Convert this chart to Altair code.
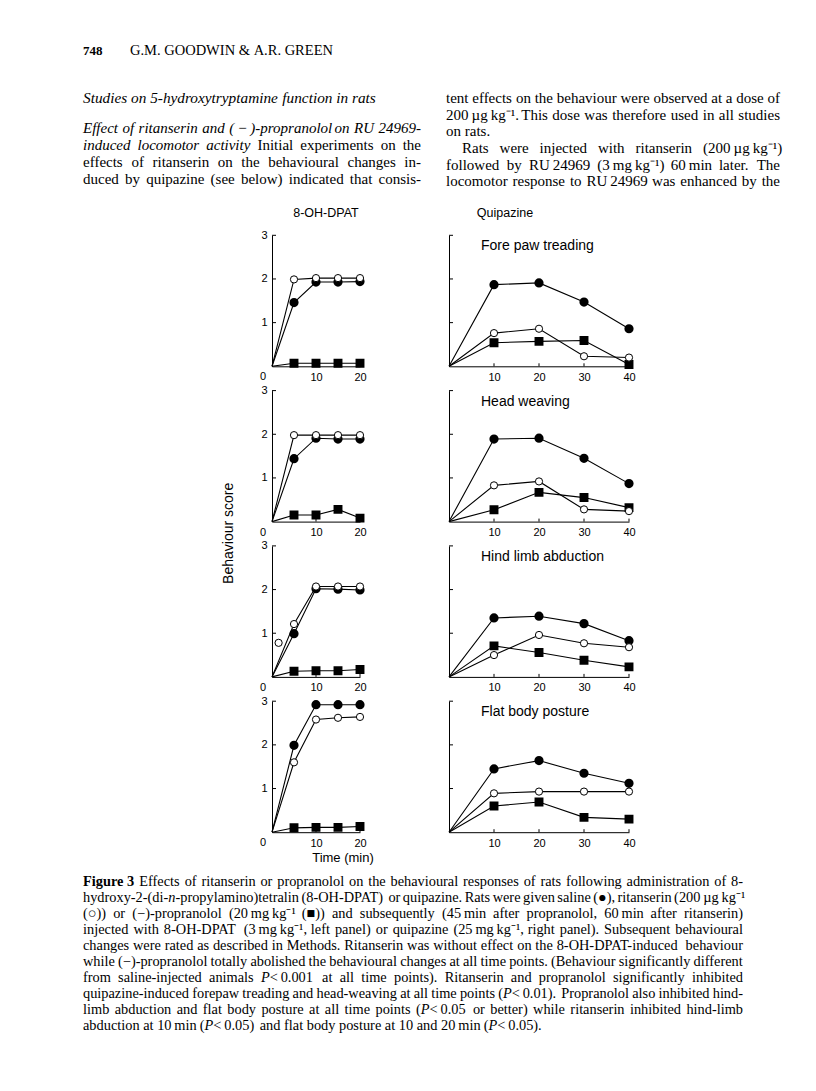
import altair as alt
import pandas as pd

# ---------------- data ----------------
DPAT_TIME = [0, 5, 10, 15, 20]
QUIP_TIME = [0, 10, 20, 30, 40]
BEHAVIOURS = ["Fore paw treading", "Head weaving", "Hind limb abduction", "Flat body posture"]

# 8-OH-DPAT (left panels): saline (filled circle), ritanserin (open circle), propranolol (filled square)
DPAT_SALINE = [
    [0, 1.46, 1.93, 1.93, 1.94],
    [0, 1.44, 1.91, 1.89, 1.89],
    [0, 0.99, 2.02, 2.01, 1.99],
    [0, 1.99, 2.92, 2.92, 2.92],
]
DPAT_RITANSERIN = [
    [0, 1.99, 2.02, 2.02, 2.02],
    [0, 1.98, 1.98, 1.98, 1.98],
    [0, 1.21, 2.07, 2.07, 2.07],
    [0, 1.60, 2.58, 2.62, 2.64],
]
DPAT_PROPRANOLOL = [
    [0, 0.07, 0.07, 0.07, 0.07],
    [0, 0.15, 0.15, 0.28, 0.08],
    [0, 0.13, 0.14, 0.14, 0.17],
    [0, 0.10, 0.11, 0.11, 0.13],
]
DPAT_STRAY_T = [1.5]      # isolated open circle printed in the third left panel
DPAT_STRAY_V = [0.78]

# Quipazine (right panels)
QUIP_SALINE = [
    [0, 1.87, 1.91, 1.47, 0.86],
    [0, 1.89, 1.91, 1.45, 0.87],
    [0, 1.35, 1.39, 1.22, 0.83],
    [0, 1.45, 1.64, 1.35, 1.12],
]
QUIP_RITANSERIN = [
    [0, 0.76, 0.86, 0.23, 0.20],
    [0, 0.83, 0.92, 0.28, 0.24],
    [0, 0.50, 0.96, 0.77, 0.68],
    [0, 0.89, 0.93, 0.93, 0.93],
]
QUIP_PROPRANOLOL = [
    [0, 0.54, 0.57, 0.59, 0.04],
    [0, 0.27, 0.67, 0.55, 0.32],
    [0, 0.71, 0.56, 0.38, 0.23],
    [0, 0.60, 0.69, 0.34, 0.30],
]
DPAT_XTICKS = [10, 20]
QUIP_XTICKS = [10, 20, 30, 40]
Y_TICKS = [1, 2, 3]

# ---------------- page text ----------------
PAGE_NUMBER = "748"
AUTHORS = "G.M. GOODWIN & A.R. GREEN"
SECTION = "_Studies on 5-hydroxytryptamine function in rats_"
LEFT_COL = [
    "_Effect of ritanserin and (\u2009\u2212\u2009)-propranolol on RU 24969-_",
    "_induced locomotor activity_ Initial experiments on the",
    "effects of ritanserin on the behavioural changes in-",
    "duced by quipazine (see below) indicated that consis-",
]
RIGHT_COL = [
    "tent effects on the behaviour were observed at a dose of",
    "200\u2009\u00b5g\u2009kg\u207b\u00b9. This dose was therefore used in all studies",
    "on rats.",
    "Rats were injected with ritanserin (200\u2009\u00b5g\u2009kg\u207b\u00b9)",
    "followed by RU\u200924969 (3\u2009mg\u2009kg\u207b\u00b9) 60\u2009min later. The",
    "locomotor response to RU\u200924969 was enhanced by the",
]
PANEL_TITLE_LEFT = "8-OH-DPAT"
PANEL_TITLE_RIGHT = "Quipazine"
Y_TITLE = "Behaviour score"
X_TITLE = "Time (min)"
CAPTION = [
    "*Figure\u00a03* Effects of ritanserin or propranolol on the behavioural responses of rats following administration of 8-",
    "hydroxy-2-(di-_n_-propylamino)tetralin (8-OH-DPAT) or quipazine. Rats were given saline (\u25cf), ritanserin (200\u2009\u00b5g\u2009kg\u207b\u00b9",
    "(\u25cb)) or (\u2212)-propranolol (20\u2009mg\u2009kg\u207b\u00b9 (\u25a0)) and subsequently (45\u2009min after propranolol, 60\u2009min after ritanserin)",
    "injected with 8-OH-DPAT (3\u2009mg\u2009kg\u207b\u00b9, left panel) or quipazine (25\u2009mg\u2009kg\u207b\u00b9, right panel). Subsequent behavioural",
    "changes were rated as described in Methods. Ritanserin was without effect on the 8-OH-DPAT-induced behaviour",
    "while (\u2212)-propranolol totally abolished the behavioural changes at all time points. (Behaviour significantly different",
    "from saline-injected animals _P_\u2009<\u20090.001 at all time points). Ritanserin and propranolol significantly inhibited",
    "quipazine-induced forepaw treading and head-weaving at all time points (_P_\u2009<\u20090.01). Propranolol also inhibited hind-",
    "limb abduction and flat body posture at all time points (_P_\u2009<\u20090.05 or better) while ritanserin inhibited hind-limb",
    "abduction at 10\u2009min (_P_\u2009<\u20090.05) and flat body posture at 10 and 20\u2009min (_P_\u2009<\u20090.05).",
]

# ---------------- text metrics (Times / Liberation Serif) ----------------
ROMAN = dict(zip(" !\"#$%&'()*+,-./0123456789:;<=>?@",
                 [250, 333, 408, 500, 500, 833, 778, 180, 333, 333, 500, 564, 250, 333, 250, 278]
                 + [500] * 10 + [278, 278, 564, 564, 564, 444, 921]))
ROMAN.update(dict(zip("ABCDEFGHIJKLMNOPQRSTUVWXYZ",
                      [722, 667, 667, 722, 611, 556, 722, 722, 333, 389, 722, 611, 889, 722, 722, 556,
                       722, 667, 556, 611, 722, 722, 944, 722, 722, 611])))
ROMAN.update(dict(zip("abcdefghijklmnopqrstuvwxyz",
                      [444, 500, 444, 500, 444, 333, 500, 500, 278, 278, 500, 278, 778, 500, 500, 500,
                       500, 333, 389, 278, 500, 500, 722, 500, 500, 444])))
ROMAN.update({"\u00b5": 500, "\u2212": 564, "\u207b": 333, "\u00b9": 300, "\u2009": 167,
              "\u00a0": 250, "\u2002": 500, "\u25cf": 600, "\u25cb": 600, "\u25a0": 600})
ITALIC = dict(ROMAN)
ITALIC.update(dict(zip("ABCDEFGHIJKLMNOPQRSTUVWXYZ",
                       [611, 611, 667, 722, 611, 611, 722, 722, 333, 444, 667, 556, 833, 667, 722, 611,
                        722, 611, 500, 556, 722, 611, 833, 611, 556, 556])))
ITALIC.update(dict(zip("abcdefghijklmnopqrstuvwxyz",
                       [500, 500, 444, 500, 444, 278, 500, 500, 278, 278, 444, 278, 722, 500, 500, 500,
                        500, 389, 389, 278, 500, 444, 667, 444, 444, 389])))
BOLD = dict(ROMAN)
BOLD.update({"a": 500, "b": 556, "d": 556, "h": 556, "n": 556, "u": 556, "r": 444, "F": 611,
             "g": 500, "i": 278, "e": 444})
TABLES = {"r": ROMAN, "i": ITALIC, "b": BOLD}


def piece_width(txt, st, fs):
    return sum(TABLES[st].get(c, 500) for c in txt) * fs / 1000.0


def parse(line):
    pieces, style, buf = [], "r", ""
    for ch in line:
        if ch in "_*":
            if buf:
                pieces.append((buf, style))
                buf = ""
            new = "i" if ch == "_" else "b"
            style = "r" if style == new else new
        else:
            buf += ch
    if buf:
        pieces.append((buf, style))
    words, cur = [], []
    for txt, st in pieces:
        for k, part in enumerate(txt.split(" ")):
            if k > 0 and cur:
                words.append(cur)
                cur = []
            if part:
                cur.append((part, st))
    if cur:
        words.append(cur)
    return words


def set_line(rows, line, x0, x1, y, fs, justify, fam="Liberation Serif"):
    words = parse(line)
    widths = [sum(piece_width(t, s, fs) for t, s in w) for w in words]
    space = 250 * fs / 1000.0
    gap = space
    if justify and len(words) > 1:
        gap = max(0.45 * space, (x1 - x0 - sum(widths)) / (len(words) - 1))
    x = x0
    for w, wd in zip(words, widths):
        px = x
        for t, s in w:
            rows.append({"x": px, "y": y, "text": t, "fs": fs, "fam": fam,
                         "sty": "italic" if s == "i" else "normal",
                         "wt": "bold" if s == "b" else "normal", "al": "left"})
            px += piece_width(t, s, fs)
        x += wd + gap


def text_chart(rows, w, h):
    df = pd.DataFrame(rows)
    layers = []
    for (fam, sty, wt, al), sub in df.groupby(["fam", "sty", "wt", "al"]):
        layers.append(
            alt.Chart(sub).mark_text(align=al, baseline="middle", font=fam, fontStyle=sty,
                                     fontWeight=wt, color="black").encode(
                x=alt.X("x:Q", scale=None, axis=None),
                y=alt.Y("y:Q", scale=None, axis=None),
                text="text:N",
                size=alt.Size("fs:Q", scale=None, legend=None),
            )
        )
    return alt.layer(*layers).properties(width=w, height=h)


# ---------------- layout ----------------
OX, OY = 8, 8
PW_L, PW_R, PH = 88, 180, 131
COL0 = 172
GAP_C, GAP_R = 89, 24.3
ROW0 = 199.7
ROW5_TOP = ROW0 + GAP_R + 4 * PH + 4 * GAP_R
SANS = "Liberation Sans"
TOP_SHIFT = -3   # vertical fine tuning of the text block above the figure
CAP_SHIFT = -2

# top block
top_rows = []
set_line(top_rows, "*" + PAGE_NUMBER + "*", 80 - OX, 0, 50 - OY + TOP_SHIFT + 1, 13, False)
set_line(top_rows, AUTHORS, 127 - OX, 0, 50 - OY + TOP_SHIFT + 1, 14.5, False)
set_line(top_rows, SECTION, 80 - OX, 0, 98 - OY + TOP_SHIFT, 15.3, False)
for i, ln in enumerate(LEFT_COL):
    set_line(top_rows, ln, 80 - OX, 418 - OX, 128 + 17 * i - OY + TOP_SHIFT, 15, True)
right_y = [98, 114.5, 131, 148, 164.5, 181]
for i, ln in enumerate(RIGHT_COL):
    x0 = 459 if i == 3 else 443
    set_line(top_rows, ln, x0 - OX, 777 - OX, right_y[i] - OY + TOP_SHIFT, 15, i != 2)
for lab, cx in ((PANEL_TITLE_LEFT, 323), (PANEL_TITLE_RIGHT, 502)):
    top_rows.append({"x": cx - OX, "y": 210 - OY, "text": lab, "fs": 12.5, "fam": SANS,
                     "sty": "normal", "wt": "normal", "al": "center"})
top_chart = text_chart(top_rows, COL0, ROW0)

# caption block
cap_top = OY + ROW5_TOP
cap_rows = [{"x": 340 - OX, "y": 857 - cap_top + CAP_SHIFT, "text": X_TITLE, "fs": 13, "fam": SANS,
             "sty": "normal", "wt": "normal", "al": "center"}]
for i, ln in enumerate(CAPTION):
    set_line(cap_rows, ln, 80 - OX, 740 - OX, 881 + 16 * i - cap_top + CAP_SHIFT, 14.35,
             i != len(CAPTION) - 1)
cap_chart = text_chart(cap_rows, COL0, 180)


def placeholder(w, h):
    return alt.Chart(pd.DataFrame({"a": [0]})).mark_point(opacity=0).encode(
        x=alt.value(0), y=alt.value(0)).properties(width=w, height=h)


row2_top = OY + ROW0 + GAP_R + PH + GAP_R
ylab_cell = alt.Chart(pd.DataFrame({"lab": [Y_TITLE]})).mark_text(
    angle=270, align="center", baseline="middle", font=SANS, fontSize=14, color="black"
).encode(x=alt.value(226 - OX), y=alt.value(530 - row2_top), text="lab:N").properties(
    width=COL0, height=PH)


def panel(times, sal, rit, pro, xmax, xticks, width, is_left, title=None, stray=None):
    rows = []
    for g, vals in (("saline", sal), ("ritanserin", rit), ("propranolol", pro)):
        for t, v in zip(times, vals):
            rows.append({"t": t, "v": v, "g": g})
    df = pd.DataFrame(rows)
    x = alt.X("t:Q", scale=alt.Scale(domain=[0, xmax], nice=False, zero=False),
              axis=alt.Axis(values=xticks, ticks=False, tickSize=0, grid=False, title=None,
                            domainColor="black", domainWidth=1, labelFont=SANS, labelFontSize=11,
                            labelColor="black", labelPadding=5, labelAngle=0,
                            labelFlush=False, labelOverlap=False))
    y = alt.Y("v:Q", scale=alt.Scale(domain=[0, 3], nice=False, zero=False),
              axis=alt.Axis(values=Y_TICKS, ticks=False, tickSize=0, grid=False, title=None,
                            domainColor="black", domainWidth=1, labels=is_left, labelFont=SANS,
                            labelFontSize=11, labelColor="black", labelPadding=5,
                            labelFlush=False, labelOverlap=False))
    base = alt.Chart(df)
    pts = df[df.t > 0]
    layers = [
        base.mark_line(color="black", strokeWidth=1.1).encode(x=x, y=y, detail="g:N"),
        alt.Chart(pd.DataFrame({"v": Y_TICKS})).mark_rule(color="black", strokeWidth=1).encode(
            y=y, x=alt.value(0), x2=alt.value(4)),
        alt.Chart(pd.DataFrame({"t": xticks})).mark_rule(color="black", strokeWidth=1).encode(
            x=x, y=alt.value(PH), y2=alt.value(PH - 3)),
        alt.Chart(pts[pts.g == "propranolol"]).mark_point(
            shape="square", filled=True, fill="black", stroke="black", size=48, opacity=1
        ).encode(x=x, y=y),
        alt.Chart(pts[pts.g == "saline"]).mark_point(
            shape="circle", filled=True, fill="black", stroke="black", size=52, opacity=1
        ).encode(x=x, y=y),
        alt.Chart(pts[pts.g == "ritanserin"]).mark_point(
            shape="circle", filled=True, fill="white", stroke="black", strokeWidth=1, size=52,
            opacity=1).encode(x=x, y=y),
    ]
    if stray is not None:
        layers.append(alt.Chart(pd.DataFrame({"t": stray[0], "v": stray[1]})).mark_point(
            shape="circle", filled=True, fill="white", stroke="black", strokeWidth=1, size=52,
            opacity=1).encode(x=x, y=y))
    if is_left:
        layers.append(alt.Chart(pd.DataFrame({"t": [0], "v": [0], "lab": ["0"]})).mark_text(
            font=SANS, fontSize=11, dx=-9, dy=11, baseline="middle", color="black").encode(
            x=x, y=y, text="lab:N"))
    if title:
        layers.append(alt.Chart(pd.DataFrame({"lab": [title]})).mark_text(
            align="left", baseline="middle", font=SANS, fontSize=14, color="black").encode(
            x=alt.value(32), y=alt.value(11), text="lab:N"))
    return alt.layer(*layers).properties(width=width, height=PH)


cells = [top_chart, placeholder(10, 10), placeholder(10, 10)]
for i in range(4):
    left = panel(DPAT_TIME, DPAT_SALINE[i], DPAT_RITANSERIN[i], DPAT_PROPRANOLOL[i], 20,
                 DPAT_XTICKS, PW_L, True,
                 stray=(DPAT_STRAY_T, DPAT_STRAY_V) if i == 2 else None)
    right = panel(QUIP_TIME, QUIP_SALINE[i], QUIP_RITANSERIN[i], QUIP_PROPRANOLOL[i], 40,
                  QUIP_XTICKS, PW_R, False, title=BEHAVIOURS[i])
    first = ylab_cell if i == 1 else placeholder(COL0, PH)
    cells += [first, left, right]
cells += [cap_chart, placeholder(10, 10), placeholder(10, 10)]

chart = alt.concat(*cells, columns=3, spacing={"row": GAP_R, "column": GAP_C},
                   bounds="flush", align="each").properties(
    padding=0, background="white").configure_view(stroke=None)

chart.save("out.html", embed_options={"renderer": "svg", "actions": False})
